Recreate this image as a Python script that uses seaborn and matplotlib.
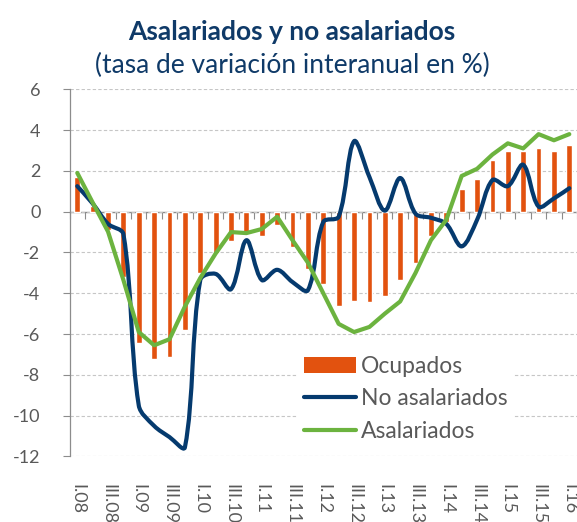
import numpy as np
import pandas as pd
import matplotlib
matplotlib.use('Agg')
import matplotlib.pyplot as plt
from matplotlib.path import Path
from matplotlib.patches import PathPatch, Patch
from matplotlib.lines import Line2D
import seaborn as sns

# Quarterly labels, I.08 .. I.16
quarters = ['I.08', 'II.08', 'III.08', 'IV.08', 'I.09', 'II.09', 'III.09', 'IV.09',
            'I.10', 'II.10', 'III.10', 'IV.10', 'I.11', 'II.11', 'III.11', 'IV.11',
            'I.12', 'II.12', 'III.12', 'IV.12', 'I.13', 'II.13', 'III.13', 'IV.13',
            'I.14', 'II.14', 'III.14', 'IV.14', 'I.15', 'II.15', 'III.15', 'IV.15',
            'I.16']

# values (% year-on-year)
ocupados = [1.7, 0.3, -0.9, -3.2, -6.45, -7.2, -7.1, -5.8, -3.0, -2.05, -1.45, -1.0,
            -1.2, -0.65, -1.75, -2.8, -3.55, -4.6, -4.4, -4.45, -4.15, -3.35, -2.5, -1.2,
            -0.5, 1.1, 1.6, 2.55, 2.95, 2.95, 3.1, 2.95, 3.25]
no_asalariados = [1.25, 0.4, -0.6, -1.1, -9.5, -10.5, -11.05, -11.55, -3.35, -3.05, -3.8, -1.4,
                  -3.35, -2.85, -3.45, -3.85, -0.5, -0.25, 3.45, 1.7, 0.05, 1.65, -0.1, -0.3,
                  -0.6, -1.7, -0.4, 1.55, 1.25, 2.3, 0.25, 0.65, 1.15]
asalariados = [1.9, 0.45, -0.98, -3.35, -5.9, -6.55, -6.25, -4.65, -3.25, -2.05, -1.0, -1.05,
               -0.85, -0.25, -1.4, -2.5, -4.0, -5.5, -5.9, -5.65, -5.0, -4.4, -3.0, -1.4,
               -0.4, 1.75, 2.1, 2.8, 3.35, 3.1, 3.8, 3.5, 3.8]

orange = '#e2520f'
navy = '#053a6e'
green = '#6cb33f'
grey_txt = '#595959'
grey_ax = '#8c8c8c'
title_col = '#0f3a68'

sns.set_style('white')
plt.rcParams['font.family'] = ['Lato', 'DejaVu Sans']
plt.rcParams['axes.unicode_minus'] = False

df = pd.DataFrame({'pos': np.arange(len(quarters)), 'trimestre': quarters,
                   'Ocupados': ocupados, 'No asalariados': no_asalariados,
                   'Asalariados': asalariados})

fig = plt.figure(figsize=(5.77, 5.22), dpi=100)
ax = fig.add_axes([0.1206, 0.1255, 0.8794, 0.7035])

ax.yaxis.grid(True, linestyle=(0, (3, 2)), color='#c6c6c6', lw=0.8)
ax.set_axisbelow(True)

sns.barplot(data=df, x='pos', y='Ocupados', native_scale=True, color=orange,
            saturation=1, width=0.38, ax=ax, zorder=2)

# smoothed line for No asalariados: bezier through the points, control arms
# weighted by segment length (roughly how the spreadsheet smooths)
pts = df[['pos', 'No asalariados']].to_numpy(dtype=float)
yscale = 20.4 / 15.37  # px per y unit / px per category


def seglen(a, b):
    return np.hypot(b[0] - a[0], (b[1] - a[1]) * yscale)


verts = [pts[0]]
codes = [Path.MOVETO]
n = len(pts)
for k in range(n - 1):
    p0 = pts[max(k - 1, 0)]
    p1 = pts[k]
    p2 = pts[k + 1]
    p3 = pts[min(k + 2, n - 1)]
    d01, d12, d23 = seglen(p0, p1), seglen(p1, p2), seglen(p2, p3)
    w1 = d12 / (d01 + d12) if k > 0 else 0.5
    w2 = d12 / (d12 + d23) if k < n - 2 else 0.5
    verts += [p1 + (p2 - p0) * w1 / 3, p2 - (p3 - p1) * w2 / 3, p2]
    codes += [Path.CURVE4] * 3
ax.add_patch(PathPatch(Path(verts, codes), facecolor='none', edgecolor=navy,
                       lw=3.0, capstyle='round', joinstyle='round', zorder=3))

sns.lineplot(data=df, x='pos', y='Asalariados', color=green, lw=3.0, ax=ax,
             zorder=4, solid_joinstyle='round', solid_capstyle='round')

ax.set_xlim(-0.5, len(quarters) - 0.5)
ax.set_ylim(-12, 6)
ax.set_yticks(np.arange(-12, 7, 2))
ax.set_xticks(df['pos'][::2])
ax.set_xticklabels(df['trimestre'][::2], rotation=270)
ax.tick_params(axis='x', length=0, pad=20, labelsize=13, labelcolor=grey_txt)
ax.tick_params(axis='y', length=5, width=0.8, color=grey_ax, pad=16,
               labelsize=13, labelcolor=grey_txt, left=True)
ax.set_xlabel('')
ax.set_ylabel('')
for s in ['top', 'right', 'bottom']:
    ax.spines[s].set_visible(False)
ax.spines['left'].set_color(grey_ax)
ax.spines['left'].set_linewidth(0.9)

# category axis crossing at zero
secax = ax.secondary_xaxis(12 / 18)
secax.set_alignment('bottom')
secax.set_xticks(np.arange(-0.5, len(quarters), 1.0))
secax.set_xticklabels([])
secax.tick_params(axis='x', length=5, width=0.8, color=grey_ax, direction='out')
secax.spines['bottom'].set_color(grey_ax)
secax.spines['bottom'].set_linewidth(1.0)

handles = [Patch(facecolor=orange, edgecolor='none'),
           Line2D([], [], color=navy, lw=3, solid_capstyle='round'),
           Line2D([], [], color=green, lw=3, solid_capstyle='round')]
leg = ax.legend(handles, ['Ocupados', 'No asalariados', 'Asalariados'],
                loc='lower left', bbox_to_anchor=(0.425, -0.01), fontsize=16.5,
                handlelength=2.3, handleheight=0.7, handletextpad=0.2,
                labelspacing=0.5, borderpad=0.3, frameon=True, framealpha=1,
                facecolor='white', edgecolor='none', fancybox=False)
for t in leg.get_texts():
    t.set_color(grey_txt)
leg.set_zorder(6)

fig.text(0.506, 0.939, 'Asalariados y no asalariados', ha='center', va='center',
         fontsize=19, fontweight='bold', color=title_col)
fig.text(0.507, 0.875, '(tasa de variación interanual en %)', ha='center', va='center',
         fontsize=19, color=title_col)

fig.savefig('out.png', dpi=100)
